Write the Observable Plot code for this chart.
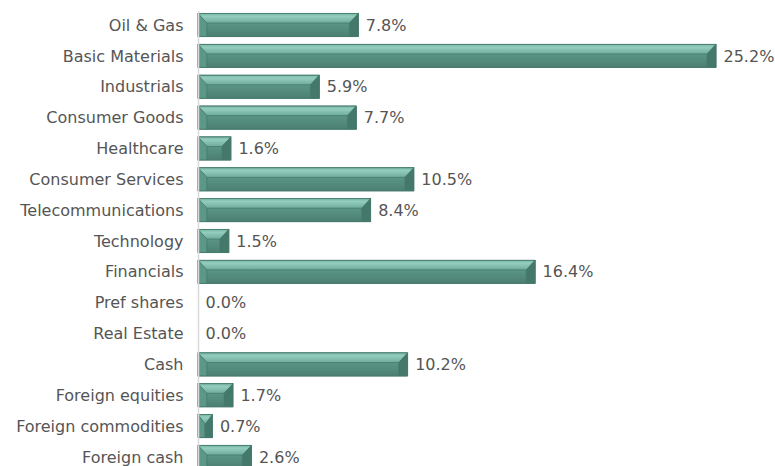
<!DOCTYPE html>
<html><head><meta charset="utf-8">
<script src="https://cdn.jsdelivr.net/npm/d3@7"></script>
<script src="https://cdn.jsdelivr.net/npm/@observablehq/plot@0.6"></script>
<style>
html,body{margin:0;padding:0;background:#fff;overflow:hidden;}
#chart svg{display:block;}
</style>
</head><body><div id="chart"></div>
<script>
const categories = ["Oil & Gas","Basic Materials","Industrials","Consumer Goods","Healthcare","Consumer Services","Telecommunications","Technology","Financials","Pref shares","Real Estate","Cash","Foreign equities","Foreign commodities","Foreign cash"];
const values = [7.8,25.2,5.9,7.7,1.6,10.5,8.4,1.5,16.4,0.0,0.0,10.2,1.7,0.7,2.6];
const data = categories.map((c,i)=>({category:c, value:values[i]}));

const plot = Plot.plot({
  width: 775,
  height: 471,
  marginLeft: 198,
  marginRight: 59,
  marginTop: 11,
  marginBottom: 0,
  style: {fontFamily: "'DejaVu Sans', Verdana, sans-serif", fontSize: "16px", color: "#555555", background: "#fff"},
  x: {domain: [0, 25.2], axis: null},
  y: {domain: categories, paddingInner: 0.25, paddingOuter: 0.08, round: false, label: null, tickSize: 0, tickPadding: 15},
  marks: [
    Plot.barX(data, {y: "category", x: "value", fill: "#4f8878", stroke: "#467a6c", strokeWidth: 0.6}),
    Plot.ruleX([0], {stroke: "#d9d9d9", strokeWidth: 1.5}),
    Plot.text(data, {y: "category", x: "value", text: d => d.value.toFixed(1) + "%", textAnchor: "start", dx: 7, fill: "#555555", fontSize: 16})
  ]
});
const svg = d3.select(plot);
const defs = svg.insert("defs", ":first-child");
const g = defs.append("linearGradient").attr("id","topGrad").attr("x1",0).attr("y1",0).attr("x2",0).attr("y2",1);
[[0,"#79b6a6"],[0.3,"#93cdbe"],[1,"#6eaa9a"]].forEach(([o,c])=>g.append("stop").attr("offset",o).attr("stop-color",c));
const g2 = defs.append("linearGradient").attr("id","botGrad").attr("x1",0).attr("y1",0).attr("x2",0).attr("y2",1);
[[0,"#5a9585"],[1,"#4b7f71"]].forEach(([o,c])=>g2.append("stop").attr("offset",o).attr("stop-color",c));

svg.selectAll('g[aria-label="bar"] rect').each(function(){
  const r = d3.select(this);
  const x = +r.attr("x"), y = +r.attr("y"), w = +r.attr("width"), h = +r.attr("height");
  if (!(w > 0)) return;
  const par = d3.select(this.parentNode);
  const b = Math.min(9, w/2), t = h*0.42;
  r.attr("fill","url(#botGrad)");
  const poly = (pts, fill) => par.append("polygon").attr("points", pts.map(p=>p.join(",")).join(" ")).attr("fill", fill);
  poly([[x,y],[x+w,y],[x+w-b,y+t],[x+b,y+t]], "url(#topGrad)");
  poly([[x,y],[x+b,y+t],[x+b,y+h],[x,y+h]], "#5c9888");
  poly([[x+w,y],[x+w-b,y+t],[x+w-b,y+h],[x+w,y+h]], "#44786a");
  poly([[x+b,y+h],[x+w-b,y+h],[x+w-b,y+t],[x+b,y+t]], "url(#botGrad)");
  par.append("rect").attr("x",x).attr("y",y).attr("width",w).attr("height",h).attr("fill","none").attr("stroke","#467a6c").attr("stroke-width",0.6);
});
document.getElementById("chart").appendChild(plot);
</script>
</body></html>
